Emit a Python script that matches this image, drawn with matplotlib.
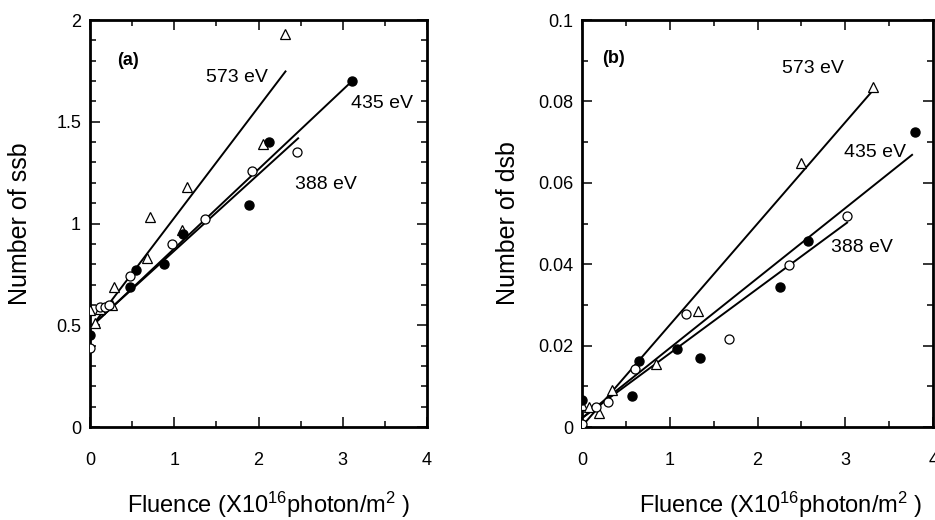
import numpy as np
import matplotlib.pyplot as plt
from matplotlib.ticker import MultipleLocator

plt.rcParams['font.family'] = ['Liberation Sans', 'DejaVu Sans']
plt.rcParams['mathtext.default'] = 'regular'

# (a) 单链断裂 ssb
a_tri_x = [0.0, 0.06, 0.12, 0.26, 0.28, 0.68, 0.71, 1.09, 1.15, 2.05, 2.31]
a_tri_y = [0.574, 0.51, 0.58, 0.60, 0.69, 0.83, 1.03, 0.97, 1.18, 1.39, 1.93]
a_fill_x = [0.0, 0.47, 0.54, 0.88, 1.10, 1.89, 2.12, 3.11]
a_fill_y = [0.45, 0.69, 0.77, 0.80, 0.95, 1.09, 1.40, 1.70]
a_open_x = [0.0, 0.12, 0.18, 0.22, 0.47, 0.97, 1.36, 1.92, 2.46]
a_open_y = [0.39, 0.59, 0.59, 0.60, 0.74, 0.90, 1.02, 1.26, 1.35]
# 拟合直线 (x0, x1, 截距, 斜率)
a_fit_573 = (0.03, 2.32, 0.483, 0.545)
a_fit_435 = (0.03, 3.11, 0.487, 0.39)
a_fit_388 = (0.03, 2.47, 0.490, 0.376)

# (b) 双链断裂 dsb
b_tri_x = [0.0, 0.08, 0.19, 0.34, 0.84, 1.32, 2.50, 3.32]
b_tri_y = [0.0054, 0.0048, 0.0035, 0.0091, 0.0154, 0.0284, 0.0648, 0.0835]
b_fill_x = [0.0, 0.57, 0.65, 1.08, 1.34, 2.26, 2.57, 3.79]
b_fill_y = [0.0066, 0.0077, 0.0163, 0.0192, 0.0170, 0.0344, 0.0458, 0.0724]
b_open_x = [0.0, 0.16, 0.30, 0.60, 1.18, 1.68, 2.36, 3.02]
b_open_y = [0.0008, 0.0048, 0.0062, 0.0142, 0.0277, 0.0216, 0.0398, 0.0519]
b_fit_573 = (0.04, 3.33, 0.0002, 0.0249)
b_fit_435 = (0.02, 3.76, 0.0022, 0.0172)
b_fit_388 = (0.02, 3.02, 0.0022, 0.0159)

fig = plt.figure(figsize=(9.35, 5.2), dpi=100)
ax1 = fig.add_axes([0.0963, 0.1788, 0.3604, 0.7827])
ax2 = fig.add_axes([0.6225, 0.1788, 0.3755, 0.7827])


def draw_panel(ax, tri, fill, opn, fits):
    for x0, x1, b, k in fits:
        xs = np.array([x0, x1])
        ax.plot(xs, b + k * xs, color='black', lw=1.4, zorder=2)
    ax.plot(tri[0], tri[1], ls='none', marker='^', ms=7, mfc='white',
            mec='black', mew=0.9, zorder=3)
    ax.plot(fill[0], fill[1], ls='none', marker='o', ms=6.5, mfc='black',
            mec='black', zorder=3)
    ax.plot(opn[0], opn[1], ls='none', marker='o', ms=6.5, mfc='white',
            mec='black', mew=0.9, zorder=3)
    ax.set_xlim(0, 4)
    ax.xaxis.set_major_locator(MultipleLocator(1))
    ax.xaxis.set_minor_locator(MultipleLocator(0.5))
    ax.tick_params(which='both', direction='in', top=True, right=True,
                   labelsize=13)
    ax.tick_params(which='major', length=7, width=1.1)
    ax.tick_params(which='minor', length=4, width=1.1)
    ax.tick_params(axis='x', which='major', pad=18)
    ax.tick_params(axis='y', which='major', pad=6.5)
    for s in ax.spines.values():
        s.set_linewidth(2.0)


draw_panel(ax1, (a_tri_x, a_tri_y), (a_fill_x, a_fill_y),
           (a_open_x, a_open_y), [a_fit_573, a_fit_435, a_fit_388])
ax1.set_ylim(0, 2)
ax1.yaxis.set_minor_locator(MultipleLocator(0.1))
ax1.set_yticks([0, 0.5, 1, 1.5, 2], ['0', '0.5', '1', '1.5', '2'])
ax1.set_ylabel('Number of ssb', fontsize=18, va='center')
ax1.yaxis.set_label_coords(-0.208, 0.5)
ax1.set_xlabel('Fluence (X10$^{16}$photon/m$^{2}$ )', fontsize=17)
ax1.xaxis.set_label_coords(0.531, -0.155)
ax1.text(0.32, 1.80, '(a)', fontsize=13, fontweight='bold', va='center')
ax1.text(1.38, 1.72, '573 eV', fontsize=14, va='center')
ax1.text(3.1, 1.59, '435 eV', fontsize=14, va='center')
ax1.text(2.43, 1.19, '388 eV', fontsize=14, va='center')

draw_panel(ax2, (b_tri_x, b_tri_y), (b_fill_x, b_fill_y),
           (b_open_x, b_open_y), [b_fit_573, b_fit_435, b_fit_388])
ax2.set_ylim(0, 0.1)
ax2.yaxis.set_minor_locator(MultipleLocator(0.01))
ax2.set_yticks([0, 0.02, 0.04, 0.06, 0.08, 0.1],
               ['0', '0.02', '0.04', '0.06', '0.08', '0.1'])
ax2.set_ylabel('Number of dsb', fontsize=18, va='center')
ax2.yaxis.set_label_coords(-0.211, 0.5)
ax2.set_xlabel('Fluence (X10$^{16}$photon/m$^{2}$ )', fontsize=17)
ax2.xaxis.set_label_coords(0.567, -0.155)
ax2.text(0.23, 0.0905, '(b)', fontsize=13, fontweight='bold', va='center')
ax2.text(2.28, 0.088, '573 eV', fontsize=14, va='center')
ax2.text(2.98, 0.0675, '435 eV', fontsize=14, va='center')
ax2.text(2.84, 0.044, '388 eV', fontsize=14, va='center')

fig.savefig('out.png', dpi=100)
